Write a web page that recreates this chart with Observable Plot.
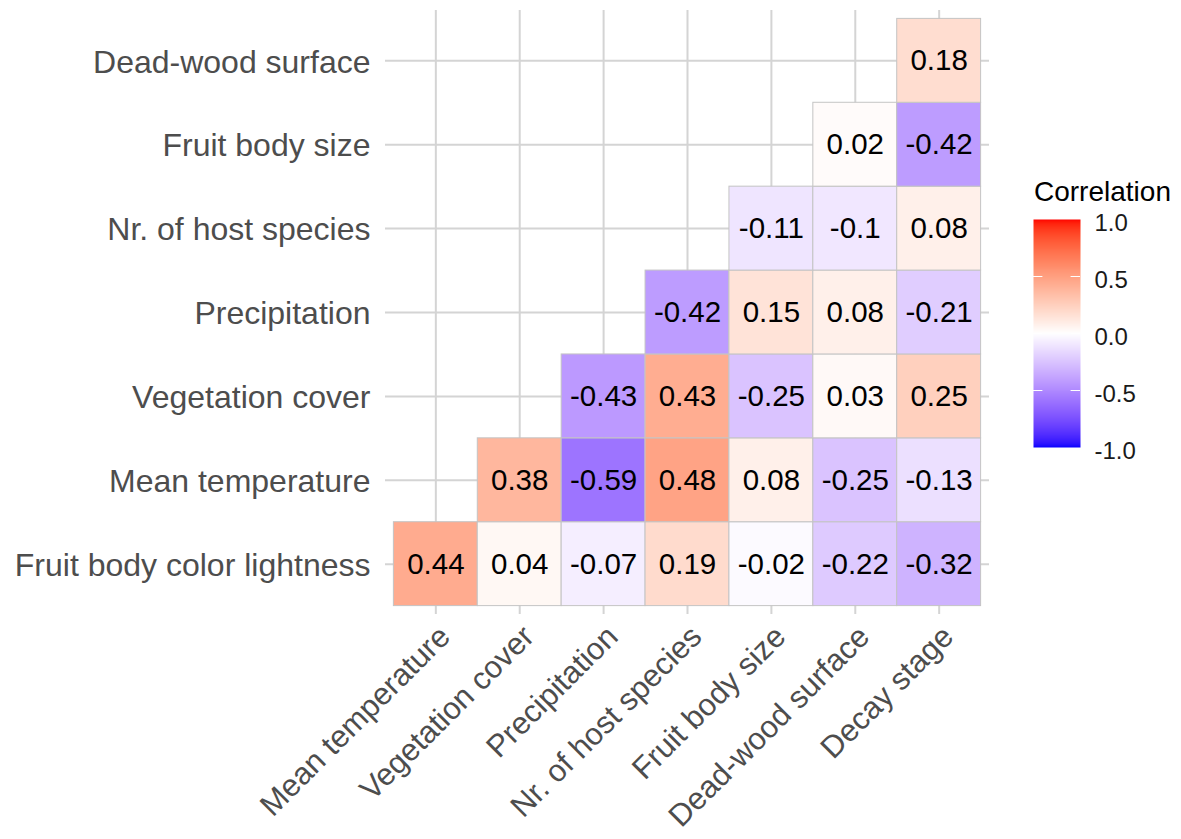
<!DOCTYPE html>
<html><head><meta charset="utf-8">
<script src="https://cdn.jsdelivr.net/npm/d3@7"></script>
<script src="https://cdn.jsdelivr.net/npm/@observablehq/plot@0.6"></script>
<style>
html,body{margin:0;padding:0;background:#fff;}
#wrap{position:relative;width:1181px;height:839px;overflow:hidden;font-family:"Liberation Sans",Arial,sans-serif;}
#main{position:absolute;left:0;top:0;width:1181px;}
#legend{position:absolute;left:1033px;top:200px;width:160px;}
#legend svg, #main svg{max-width:none;}
#ltitle{position:absolute;left:1034px;top:178px;font-size:28px;line-height:28px;color:#000;white-space:nowrap;}
</style></head><body>
<div id="wrap"><div id="main"></div><div id="ltitle">Correlation</div><div id="legend"></div></div>
<script>
// Column (x) variables, left to right
const xVars = ["Mean temperature", "Vegetation cover", "Precipitation", "Nr. of host species",
  "Fruit body size", "Dead-wood surface", "Decay stage"];
// Row (y) variables, top to bottom
const yVars = ["Dead-wood surface", "Fruit body size", "Nr. of host species", "Precipitation",
  "Vegetation cover", "Mean temperature", "Fruit body color lightness"];

// Lower-triangle correlation entries
const rowVar = [
  "Fruit body color lightness","Fruit body color lightness","Fruit body color lightness","Fruit body color lightness","Fruit body color lightness","Fruit body color lightness","Fruit body color lightness",
  "Mean temperature","Mean temperature","Mean temperature","Mean temperature","Mean temperature","Mean temperature",
  "Vegetation cover","Vegetation cover","Vegetation cover","Vegetation cover","Vegetation cover",
  "Precipitation","Precipitation","Precipitation","Precipitation",
  "Nr. of host species","Nr. of host species","Nr. of host species",
  "Fruit body size","Fruit body size",
  "Dead-wood surface"];
const colVar = [
  "Mean temperature","Vegetation cover","Precipitation","Nr. of host species","Fruit body size","Dead-wood surface","Decay stage",
  "Vegetation cover","Precipitation","Nr. of host species","Fruit body size","Dead-wood surface","Decay stage",
  "Precipitation","Nr. of host species","Fruit body size","Dead-wood surface","Decay stage",
  "Nr. of host species","Fruit body size","Dead-wood surface","Decay stage",
  "Fruit body size","Dead-wood surface","Decay stage",
  "Dead-wood surface","Decay stage",
  "Decay stage"];
const corr = [
  0.44, 0.04, -0.07, 0.19, -0.02, -0.22, -0.32,
  0.38, -0.59, 0.48, 0.08, -0.25, -0.13,
  -0.43, 0.43, -0.25, 0.03, 0.25,
  -0.42, 0.15, 0.08, -0.21,
  -0.11, -0.1, 0.08,
  0.02, -0.42,
  0.18];
const legendTicks = [-1, -0.5, 0, 0.5, 1];

const cells = corr.map((v, i) => ({row: rowVar[i], col: colVar[i], r: v}));
const font = '"Liberation Sans", Arial, sans-serif';
const colorScale = {type: "linear", domain: [-1, 0, 1], range: ["blue", "white", "red"], interpolate: "lab"};

const main = Plot.plot({
  width: 1181, height: 839,
  marginLeft: 385, marginRight: 192, marginTop: 10, marginBottom: 225,
  style: {fontFamily: font, background: "white", overflow: "visible"},
  x: {domain: xVars, paddingInner: 0, paddingOuter: 0.1, round: false, label: null},
  y: {domain: yVars, paddingInner: 0, paddingOuter: 0.1, round: false, label: null},
  color: colorScale,
  marks: [
    Plot.gridX({stroke: "#d4d4d4", strokeWidth: 2, strokeOpacity: 1}),
    Plot.gridY({stroke: "#d4d4d4", strokeWidth: 2, strokeOpacity: 1}),
    Plot.cell(cells, {x: "col", y: "row", fill: "r", stroke: "#c4c4c4", strokeWidth: 1}),
    Plot.text(cells, {x: "col", y: "row", text: d => String(d.r), fontSize: 29.5, fill: "black"}),
    Plot.axisY({tickSize: 0, tickPadding: 15, dy: 1.5, fontSize: 32, color: "#4d4d4d", label: null}),
    Plot.axisX({tickSize: 0, tickPadding: 17, dx: 9, tickRotate: -45, fontSize: 31, color: "#4d4d4d", label: null})
  ]
});
document.getElementById("main").append(main);

const legend = Plot.plot({
  width: 160, height: 270,
  marginLeft: 0, marginRight: 113, marginTop: 19, marginBottom: 23,
  style: {fontFamily: font, background: "transparent", overflow: "visible"},
  x: {domain: [0, 1], axis: null},
  y: {domain: [-1, 1], axis: null},
  color: colorScale,
  marks: [
    Plot.raster({fill: (x, y) => y, x1: 0, x2: 1, y1: -1, y2: 1, width: 2, height: 230}),
    Plot.ruleY(legendTicks.slice(1, -1), {x1: 0, x2: 0.2, stroke: "white", strokeWidth: 1}),
    Plot.ruleY(legendTicks.slice(1, -1), {x1: 0.8, x2: 1, stroke: "white", strokeWidth: 1}),
    Plot.axisY(legendTicks, {anchor: "right", tickSize: 0, tickPadding: 14, fontSize: 24, color: "#1a1a1a",
      tickFormat: d => d.toFixed(1), label: null, dy: 4})
  ]
});
document.getElementById("legend").append(legend);
</script>
</body></html>
